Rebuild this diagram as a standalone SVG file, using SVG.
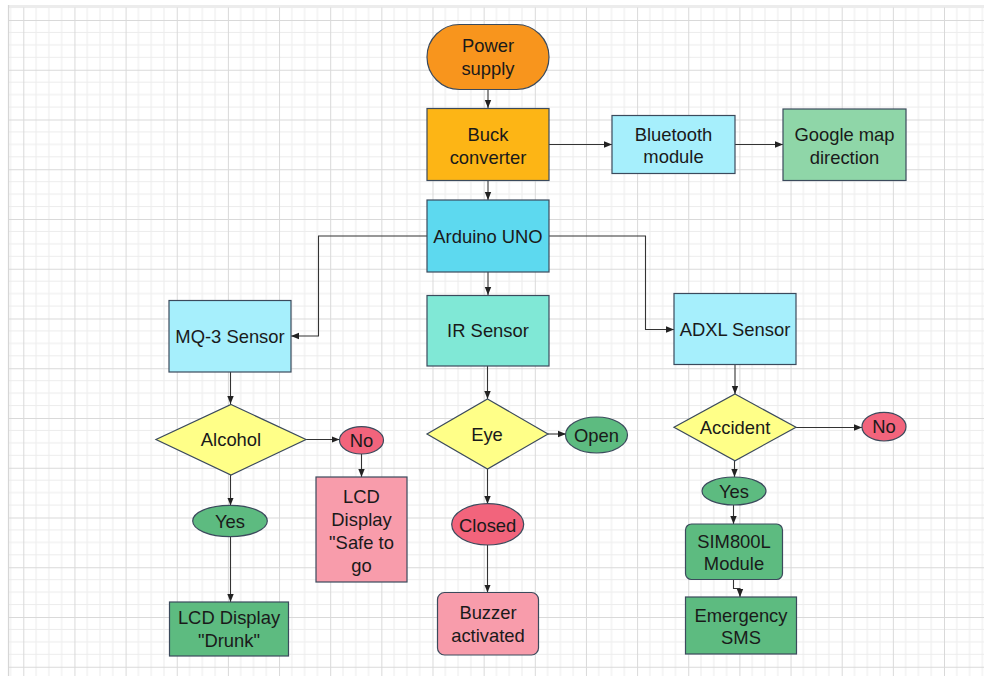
<svg xmlns="http://www.w3.org/2000/svg" width="984" height="676" viewBox="0 0 984 676">
<style>
.n{stroke:#3b4a5c;stroke-width:1.2}
.t{font-family:"Liberation Sans",Arial,sans-serif;font-size:18.4px;fill:#1a1a1a;text-anchor:middle;dominant-baseline:central}
.c{fill:none;stroke:#333;stroke-width:1.1}
</style>
<defs>
<marker id="ah" markerUnits="userSpaceOnUse" markerWidth="8" markerHeight="8" viewBox="0 0 8 8" refX="8" refY="4" orient="auto">
<path d="M0,0.8 L8,4 L0,7.2 Z" fill="#222"/>
</marker>
<pattern id="grid" patternUnits="userSpaceOnUse" x="23.3" y="20" width="51.15" height="49.75">
<g stroke="#ececec" stroke-width="1">
<line x1="12.79" y1="0" x2="12.79" y2="49.75"/>
<line x1="25.58" y1="0" x2="25.58" y2="49.75"/>
<line x1="38.36" y1="0" x2="38.36" y2="49.75"/>
<line x1="0" y1="12.44" x2="51.15" y2="12.44"/>
<line x1="0" y1="24.88" x2="51.15" y2="24.88"/>
<line x1="0" y1="37.31" x2="51.15" y2="37.31"/>
</g>
<g stroke="#d9d9d9" stroke-width="1">
<line x1="0.5" y1="0" x2="0.5" y2="49.75"/>
<line x1="0" y1="0.5" x2="51.15" y2="0.5"/>
</g>
</pattern>
</defs>
<rect x="0" y="0" width="984" height="676" fill="#ffffff"/>
<rect x="8" y="5" width="976" height="671" fill="url(#grid)"/>
<rect x="8" y="5" width="976" height="2.5" fill="#ececec"/>
<line x1="8.5" y1="5" x2="8.5" y2="676" stroke="#d6d6d6" stroke-width="1.2"/>

<g id="connectors">
<line class="c" x1="488" y1="89" x2="488" y2="108" marker-end="url(#ah)"/>
<line class="c" x1="549" y1="144.5" x2="612" y2="144.5" marker-end="url(#ah)"/>
<line class="c" x1="735" y1="144.5" x2="783" y2="144.5" marker-end="url(#ah)"/>
<line class="c" x1="488" y1="180" x2="488" y2="200" marker-end="url(#ah)"/>
<polyline class="c" points="427,236 318.5,236 318.5,336 291,336" marker-end="url(#ah)"/>
<polyline class="c" points="549,236 645.5,236 645.5,329.5 674,329.5" marker-end="url(#ah)"/>
<line class="c" x1="488" y1="272" x2="488" y2="295" marker-end="url(#ah)"/>
<line class="c" x1="230.5" y1="372" x2="230.5" y2="404" marker-end="url(#ah)"/>
<line class="c" x1="306" y1="439.5" x2="339.5" y2="439.5" marker-end="url(#ah)"/>
<line class="c" x1="361.5" y1="454" x2="361.5" y2="477" marker-end="url(#ah)"/>
<line class="c" x1="230.5" y1="475" x2="230.5" y2="505.5" marker-end="url(#ah)"/>
<line class="c" x1="230.5" y1="537" x2="230.5" y2="602" marker-end="url(#ah)"/>
<line class="c" x1="487.5" y1="366" x2="487.5" y2="399" marker-end="url(#ah)"/>
<line class="c" x1="548" y1="434" x2="566" y2="434" marker-end="url(#ah)"/>
<line class="c" x1="487.5" y1="469" x2="487.5" y2="504" marker-end="url(#ah)"/>
<line class="c" x1="487.5" y1="545" x2="487.5" y2="592.5" marker-end="url(#ah)"/>
<line class="c" x1="735" y1="364" x2="735" y2="394" marker-end="url(#ah)"/>
<line class="c" x1="796" y1="427.5" x2="862" y2="427.5" marker-end="url(#ah)"/>
<line class="c" x1="734.5" y1="461" x2="734.5" y2="477" marker-end="url(#ah)"/>
<line class="c" x1="733.5" y1="505" x2="733.5" y2="524" marker-end="url(#ah)"/>
<polyline class="c" points="733.5,579.5 733.5,588.5 740,588.5 740,597" marker-end="url(#ah)"/>
</g>

<g id="power-supply">
<rect class="n" x="427" y="24.5" width="122" height="65" rx="32.5" fill="#f8951d"/>
<text class="t" x="488" y="45.5">Power</text>
<text class="t" x="488" y="68.5">supply</text>
</g>
<g id="buck-converter">
<rect class="n" x="427" y="108.5" width="122" height="72" fill="#fdb515"/>
<text class="t" x="488" y="134">Buck</text>
<text class="t" x="488" y="157">converter</text>
</g>
<g id="bluetooth-module">
<rect class="n" x="612" y="115.5" width="123" height="58" fill="#a6effc"/>
<text class="t" x="673.5" y="134">Bluetooth</text>
<text class="t" x="673.5" y="156">module</text>
</g>
<g id="google-map">
<rect class="n" x="783" y="109" width="123" height="71.5" fill="#8fd6a8"/>
<text class="t" x="844.5" y="134">Google map</text>
<text class="t" x="844.5" y="157">direction</text>
</g>
<g id="arduino-uno">
<rect class="n" x="427" y="200" width="122" height="72" fill="#5dd9ef"/>
<text class="t" x="488" y="236">Arduino UNO</text>
</g>
<g id="mq3-sensor">
<rect class="n" x="169" y="300.5" width="122" height="71.5" fill="#a6effc"/>
<text class="t" x="230" y="336.5">MQ-3 Sensor</text>
</g>
<g id="ir-sensor">
<rect class="n" x="427" y="295.5" width="122" height="70.5" fill="#80e8d6"/>
<text class="t" x="488" y="330.5">IR Sensor</text>
</g>
<g id="adxl-sensor">
<rect class="n" x="674" y="293.5" width="122" height="71" fill="#a6effc"/>
<text class="t" x="735" y="329">ADXL Sensor</text>
</g>
<g id="alcohol">
<polygon class="n" points="231,404.5 306,439.5 231,475 156,439.5" fill="#ffff88"/>
<text class="t" x="231" y="439.5">Alcohol</text>
</g>
<g id="no-alcohol">
<ellipse class="n" cx="361.5" cy="440.3" rx="22" ry="13.7" fill="#f2647c"/>
<text class="t" x="361.5" y="440.3">No</text>
</g>
<g id="lcd-safe">
<rect class="n" x="316" y="477" width="91" height="105" fill="#f89cab"/>
<text class="t" x="361.5" y="496">LCD</text>
<text class="t" x="361.5" y="519">Display</text>
<text class="t" x="361.5" y="542">"Safe to</text>
<text class="t" x="361.5" y="565">go</text>
</g>
<g id="yes-alcohol">
<ellipse class="n" cx="230" cy="521" rx="37.3" ry="15.7" fill="#5dbb80"/>
<text class="t" x="230" y="521">Yes</text>
</g>
<g id="lcd-drunk">
<rect class="n" x="169.5" y="602" width="119" height="54" fill="#5dbb80"/>
<text class="t" x="229" y="617.5">LCD Display</text>
<text class="t" x="229" y="640">"Drunk"</text>
</g>
<g id="eye">
<polygon class="n" points="487.5,399 548,434 487.5,469 427,434" fill="#ffff88"/>
<text class="t" x="487" y="434">Eye</text>
</g>
<g id="open">
<ellipse class="n" cx="596.5" cy="435" rx="31" ry="18" fill="#5dbb80"/>
<text class="t" x="596.5" y="435">Open</text>
</g>
<g id="closed">
<ellipse class="n" cx="487.7" cy="524.3" rx="36" ry="20.7" fill="#f2647c"/>
<text class="t" x="487.7" y="525">Closed</text>
</g>
<g id="buzzer">
<rect class="n" x="437.5" y="592.5" width="101" height="62.5" rx="7" fill="#f89cab"/>
<text class="t" x="488" y="612.5">Buzzer</text>
<text class="t" x="488" y="635.5">activated</text>
</g>
<g id="accident">
<polygon class="n" points="735,394 796,427.3 735,460.7 674,427.3" fill="#ffff88"/>
<text class="t" x="735" y="427">Accident</text>
</g>
<g id="no-accident">
<ellipse class="n" cx="884" cy="426.7" rx="22" ry="14.3" fill="#f2647c"/>
<text class="t" x="884" y="426.7">No</text>
</g>
<g id="yes-accident">
<ellipse class="n" cx="734" cy="491" rx="32" ry="14" fill="#5dbb80"/>
<text class="t" x="734" y="491">Yes</text>
</g>
<g id="sim800l">
<rect class="n" x="685.5" y="524" width="97" height="55.5" rx="6" fill="#5dbb80"/>
<text class="t" x="734" y="541">SIM800L</text>
<text class="t" x="734" y="563">Module</text>
</g>
<g id="emergency-sms">
<rect class="n" x="685.5" y="597" width="111" height="57" fill="#5dbb80"/>
<text class="t" x="741" y="615">Emergency</text>
<text class="t" x="741" y="637">SMS</text>
</g>
</svg>
